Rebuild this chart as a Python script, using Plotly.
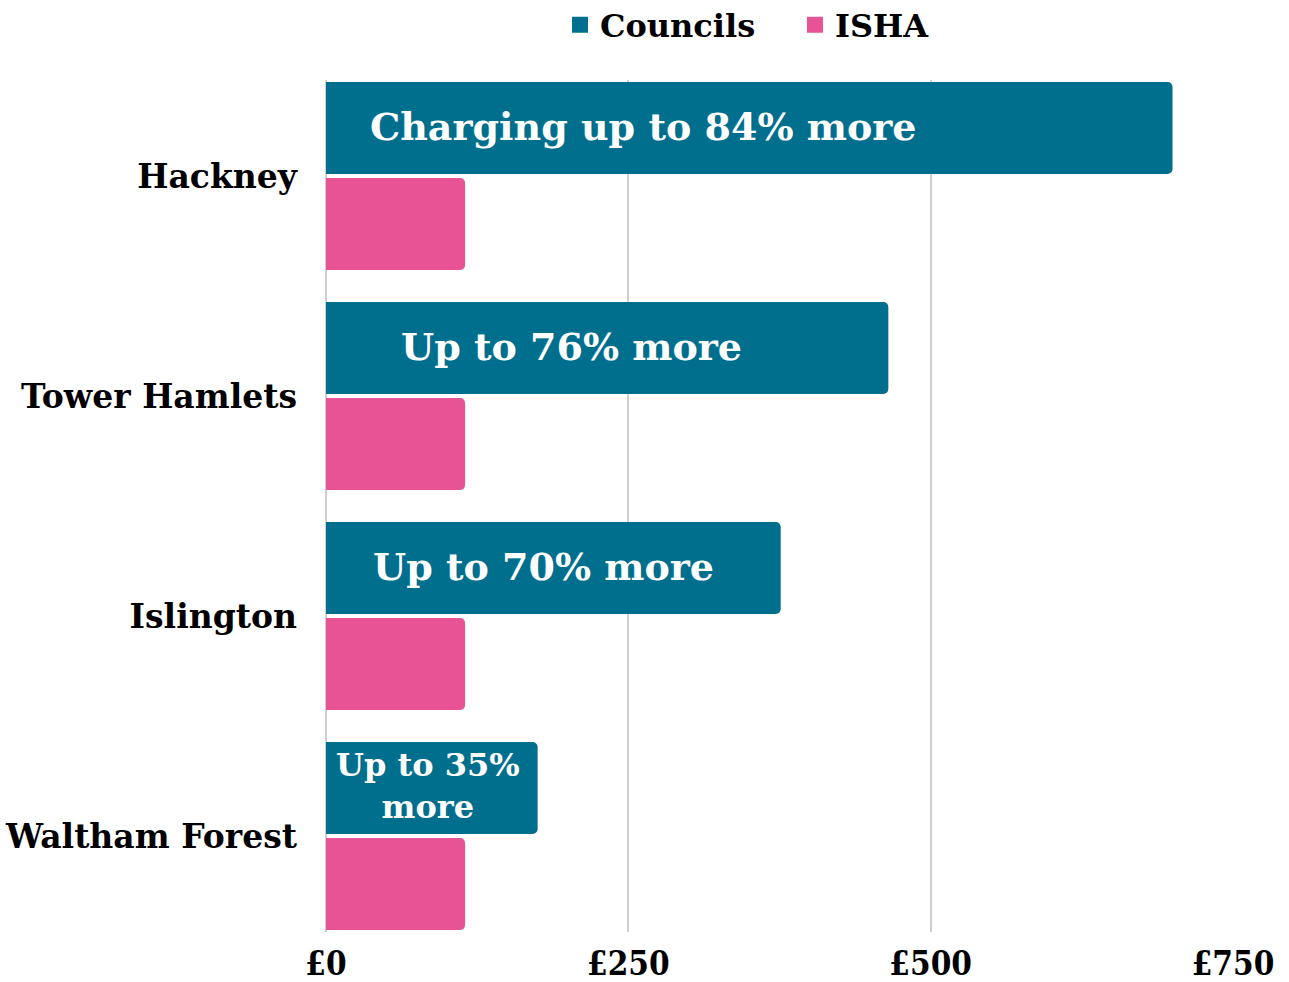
import plotly.graph_objects as go

boroughs = ["Hackney", "Tower Hamlets", "Islington", "Waltham Forest"]
councils = [700, 465, 376, 175]
isha = [115, 115, 115, 115]
labels = ["Charging up to 84% more", "Up to 76% more", "Up to 70% more", "Up to 35%<br>more"]
label_x = [262, 203, 180, 84]
label_size = [38, 38, 38, 32]
tick_vals = [0, 250, 500, 750]
tick_text = ["£0", "£250", "£500", "£750"]

TEAL = "#006F8E"
PINK = "#E85395"
FONT = "DejaVu Serif"

bargap = 28 / 220

fig = go.Figure()
fig.add_trace(go.Bar(y=boroughs, x=councils, name="Councils", orientation="h", showlegend=False,
                     marker=dict(color=TEAL, line=dict(width=0))))
fig.add_trace(go.Bar(y=boroughs, x=isha, name="ISHA", orientation="h", showlegend=False,
                     marker=dict(color=PINK, line=dict(width=0))))
# legend-only square markers
for name, col in [("Councils", TEAL), ("ISHA", PINK)]:
    fig.add_trace(go.Scatter(x=[None], y=[None], mode="markers", name=name,
                             marker=dict(symbol="square", size=16, color=col, line=dict(width=0))))

for b, t, lx, fs in zip(boroughs, labels, label_x, label_size):
    fig.add_annotation(x=lx, y=b, text=t, showarrow=False, xanchor="center", yanchor="middle",
                       yshift=50, font=dict(family=FONT, size=fs, color="white", weight="bold"))

half = bargap / 2
fig.update_layout(
    width=1289, height=982,
    margin=dict(l=326, r=56, t=80, b=50, autoexpand=False),
    paper_bgcolor="white", plot_bgcolor="white",
    barmode="group", bargap=bargap, bargroupgap=0.04, barcornerradius=5,
    font=dict(family=FONT, color="black"),
    legend=dict(orientation="h", x=(560 - 326) / 907, xanchor="left", y=1.0646, yanchor="middle",
                font=dict(family=FONT, size=32, color="black", weight="bold"),
                itemwidth=30, entrywidth=190, entrywidthmode="pixels", tracegroupgap=0),
    xaxis=dict(range=[0, 750], tickvals=tick_vals, ticktext=tick_text, showgrid=True,
               gridcolor="#cfcfcf", gridwidth=1.5, zeroline=True, zerolinecolor="#cfcfcf",
               zerolinewidth=1.5, showline=False, ticks="", ticklabelstandoff=9,
               tickfont=dict(family="DejaVu Serif Condensed", size=33, color="black", weight="bold"),
               automargin=False),
    yaxis=dict(categoryorder="array", categoryarray=boroughs,
               range=[len(boroughs) - 0.5 - half, -0.5 + half],
               showgrid=False, showline=False, ticks="", ticklabelstandoff=28,
               tickfont=dict(family=FONT, size=33, color="black", weight="bold"),
               automargin=False),
)

fig.write_html("out.html")
